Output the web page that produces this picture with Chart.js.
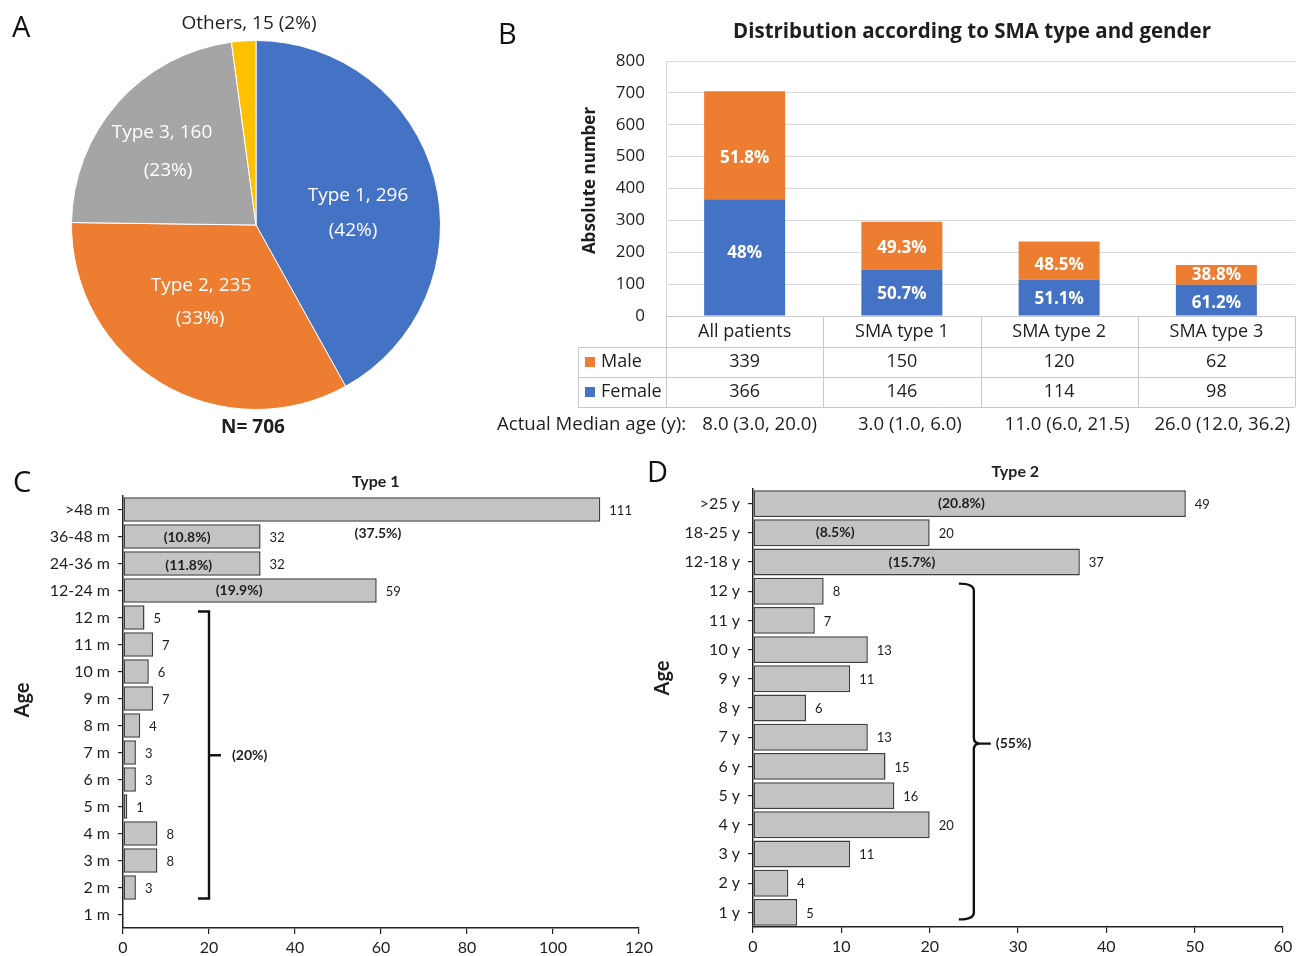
<!DOCTYPE html>
<html>
<head>
<meta charset="utf-8">
<title>SMA cohort overview</title>
<script src="https://cdn.jsdelivr.net/npm/chart.js@4"></script>
<style>
  html, body { margin: 0; padding: 0; background: #fff; width: 1299px; height: 956px; overflow: hidden; }
  canvas { position: absolute; }
  .letter { position: absolute; font-family: "Open Sans", sans-serif; font-size: 29px; line-height: 1; color: #111; }
</style>
</head>
<body>
<canvas id="pieA" width="480" height="450" style="left:0;top:0"></canvas>
<canvas id="barB" width="809" height="450" style="left:490px;top:0"></canvas>
<canvas id="barD" width="659" height="501" style="left:640px;top:455px"></canvas>
<canvas id="barC" width="660" height="496" style="left:0;top:460px"></canvas>
<div class="letter" style="left:12px;top:11px">A</div>
<div class="letter" style="left:498px;top:18px">B</div>
<div class="letter" style="left:13px;top:466px">C</div>
<div class="letter" style="left:647px;top:456px">D</div>

<script>
// ---- Panel A: patients by SMA type ----
const typeNames = ['Type 1', 'Type 2', 'Type 3', 'Others'];
const typeCounts = [296, 235, 160, 15];

// ---- Panel B: gender split per SMA type ----
const groupsB = ['All patients', 'SMA type 1', 'SMA type 2', 'SMA type 3'];
const maleB = [339, 150, 120, 62];
const femaleB = [366, 146, 114, 98];
const malePctB = ['51.8%', '49.3%', '48.5%', '38.8%'];
const femalePctB = ['48%', '50.7%', '51.1%', '61.2%'];
const medianAgeB = ['8.0 (3.0, 20.0)', '3.0 (1.0, 6.0)', '11.0 (6.0, 21.5)', '26.0 (12.0, 36.2)'];
const yTicksB = [0, 100, 200, 300, 400, 500, 600, 700, 800];

// ---- Panel C: age distribution, type 1 ----
const ageC = ['>48 m', '36-48 m', '24-36 m', '12-24 m', '12 m', '11 m', '10 m', '9 m', '8 m', '7 m', '6 m', '5 m', '4 m', '3 m', '2 m', '1 m'];
const countsC = [111, 32, 32, 59, 5, 7, 6, 7, 4, 3, 3, 1, 8, 8, 3, 0];
const pctC = ['(37.5%)', '(10.8%)', '(11.8%)', '(19.9%)'];
const groupPctC = '(20%)';
const xTicksC = [0, 20, 40, 60, 80, 100, 120];

// ---- Panel D: age distribution, type 2 ----
const ageD = ['>25 y', '18-25 y', '12-18 y', '12 y', '11 y', '10 y', '9 y', '8 y', '7 y', '6 y', '5 y', '4 y', '3 y', '2 y', '1 y'];
const countsD = [49, 20, 37, 8, 7, 13, 11, 6, 13, 15, 16, 20, 11, 4, 5];
const pctD = ['(20.8%)', '(8.5%)', '(15.7%)'];
const groupPctD = '(55%)';
const xTicksD = [0, 10, 20, 30, 40, 50, 60];

const SANS = '"Open Sans", sans-serif';
const LATO = 'Lato, sans-serif';
const INK = '#1e1e1e';

// ================= Panel A =================
const pieNotes = {
  id: 'pieNotes',
  afterDatasetsDraw(chart) {
    const ctx = chart.ctx;
    const arc = chart.getDatasetMeta(0).data[0];
    const cx = arc.x, cy = arc.y;
    const data = chart.data.datasets[0].data;
    const total = data.reduce((a, b) => a + b, 0);
    // label anchors (offsets from the pie centre) for each slice
    const spots = [
      [[102, -29], [97, 6]],
      [[-55, 61], [-56, 94]],
      [[-94, -92], [-88, -54]]
    ];
    ctx.save();
    ctx.font = '19px ' + SANS;
    ctx.textAlign = 'center';
    ctx.textBaseline = 'middle';
    ctx.fillStyle = '#fff';
    spots.forEach((s, i) => {
      const pct = Math.round(data[i] / total * 100);
      ctx.fillText(chart.data.labels[i] + ', ' + data[i], cx + s[0][0], cy + s[0][1]);
      ctx.fillText('(' + pct + '%)', cx + s[1][0], cy + s[1][1]);
    });
    const last = data.length - 1;
    ctx.fillStyle = INK;
    ctx.fillText(chart.data.labels[last] + ', ' + data[last] + ' (' + Math.round(data[last] / total * 100) + '%)', cx - 7, 24);
    ctx.font = 'bold 19px ' + SANS;
    ctx.fillText('N= ' + total, cx - 3, 428);
    ctx.restore();
  }
};

new Chart(document.getElementById('pieA'), {
  type: 'pie',
  data: {
    labels: typeNames,
    datasets: [{
      data: typeCounts,
      backgroundColor: ['#4472C4', '#ED7D31', '#A5A5A5', '#FFC000'],
      borderColor: '#ffffff',
      borderWidth: 1,
      hoverOffset: 0
    }]
  },
  options: {
    responsive: false,
    animation: false,
    layout: { padding: { left: 71, right: 39, top: 40, bottom: 40 } },
    plugins: { legend: { display: false }, tooltip: { enabled: false } }
  },
  plugins: [pieNotes]
});

// ================= Panel B =================
const genderTable = {
  id: 'genderTable',
  afterDatasetsDraw(chart) {
    const { ctx, chartArea: a } = chart;
    const n = groupsB.length;
    const colW = (a.right - a.left) / n;
    const rows = [a.bottom, a.bottom + 31, a.bottom + 61, a.bottom + 91];
    const legendLeft = a.left - 88;
    const line = (x1, y1, x2, y2) => { ctx.beginPath(); ctx.moveTo(x1, y1); ctx.lineTo(x2, y2); ctx.stroke(); };

    ctx.save();
    // segment percentages inside the stacked bars (small nudges keep them clear of edges)
    const maleNudge = [13, 3, 5, 0];
    const femaleNudge = [-4, 2, 2, 3];
    ctx.font = 'bold 17px ' + SANS;
    ctx.fillStyle = '#fff';
    ctx.textAlign = 'center';
    ctx.textBaseline = 'middle';
    const fem = chart.getDatasetMeta(0).data;
    const mal = chart.getDatasetMeta(1).data;
    fem.forEach((b, i) => ctx.fillText(femalePctB[i], b.x, (b.y + b.base) / 2 + femaleNudge[i]));
    mal.forEach((b, i) => ctx.fillText(malePctB[i], b.x, (b.y + b.base) / 2 + maleNudge[i]));

    // data table grid
    ctx.strokeStyle = '#C9C9C9';
    ctx.lineWidth = 1;
    line(a.left, rows[0] + 0.5, a.right, rows[0] + 0.5);
    for (let r = 1; r < 4; r++) line(legendLeft, rows[r] + 0.5, a.right, rows[r] + 0.5);
    line(legendLeft + 0.5, rows[1], legendLeft + 0.5, rows[3]);
    for (let c = 0; c <= n; c++) {
      const x = Math.round(a.left + c * colW) + 0.5;
      line(x, rows[0], x, rows[3]);
    }

    // table text
    ctx.font = '18px ' + SANS;
    ctx.fillStyle = INK;
    groupsB.forEach((g, i) => {
      const cx = a.left + (i + 0.5) * colW;
      ctx.fillText(g, cx, rows[0] + 16);
      ctx.fillText(String(maleB[i]), cx, rows[1] + 15);
      ctx.fillText(String(femaleB[i]), cx, rows[2] + 15);
    });
    ctx.textAlign = 'left';
    ctx.fillStyle = '#ED7D31';
    ctx.fillRect(legendLeft + 7, rows[1] + 10, 10, 10);
    ctx.fillStyle = '#4472C4';
    ctx.fillRect(legendLeft + 7, rows[2] + 10, 10, 10);
    ctx.fillStyle = INK;
    ctx.fillText('Male', legendLeft + 23, rows[1] + 15);
    ctx.fillText('Female', legendLeft + 23, rows[2] + 15);

    // median age line under the table
    const medianShift = [15, 8, 8, 6];
    ctx.font = '18.6px ' + SANS;
    ctx.fillText('Actual Median age (y):', 7, rows[3] + 18);
    ctx.textAlign = 'center';
    medianAgeB.forEach((m, i) => ctx.fillText(m, a.left + (i + 0.5) * colW + medianShift[i], rows[3] + 18));

    // chart title and value-axis title
    ctx.font = 'bold 20.5px ' + SANS;
    ctx.fillText('Distribution according to SMA type and gender', 482, 32);
    ctx.save();
    ctx.translate(100, (a.top + a.bottom) / 2 - 8);
    ctx.rotate(-Math.PI / 2);
    ctx.font = 'bold 17px ' + SANS;
    ctx.fillText('Absolute number', 0, 0);
    ctx.restore();
    ctx.restore();
  }
};

new Chart(document.getElementById('barB'), {
  type: 'bar',
  data: {
    labels: groupsB,
    datasets: [
      { label: 'Female', data: femaleB, backgroundColor: '#4472C4' },
      { label: 'Male', data: maleB, backgroundColor: '#ED7D31' }
    ]
  },
  options: {
    responsive: false,
    animation: false,
    layout: { padding: { left: 0, right: 4, top: 61, bottom: 134 } },
    datasets: { bar: { categoryPercentage: 1, barPercentage: 0.515 } },
    plugins: { legend: { display: false }, tooltip: { enabled: false } },
    scales: {
      x: { display: false, stacked: true },
      y: {
        stacked: true,
        min: 0,
        max: 800,
        afterBuildTicks(s) { s.ticks = yTicksB.map(v => ({ value: v })); },
        afterFit(s) { s.width = 176; },
        ticks: { color: INK, font: { family: SANS, size: 17 }, padding: 21 },
        grid: { color: '#D9D9D9', drawTicks: false },
        border: { color: '#D9D9D9' }
      }
    }
  },
  plugins: [genderTable]
});

// ================= Panels C and D =================
function ageNotes(cfg) {
  return {
    id: 'ageNotes',
    afterDatasetsDraw(chart) {
      const { ctx, scales: { x, y } } = chart;
      const values = chart.data.datasets[0].data;
      const bars = chart.getDatasetMeta(0).data;
      ctx.save();
      ctx.fillStyle = INK;
      ctx.textBaseline = 'middle';

      // counts at the end of each bar
      ctx.font = '13px ' + LATO;
      ctx.textAlign = 'left';
      bars.forEach((b, i) => {
        if (values[i] > 0) ctx.fillText(String(values[i]), b.x + 9, b.y + 1);
      });

      // share of each older age band
      ctx.font = 'bold 14px ' + LATO;
      ctx.textAlign = 'center';
      cfg.notes.forEach(nt => ctx.fillText(nt.text, x.getPixelForValue(nt.x), y.getPixelForValue(nt.row)));

      // panel title
      ctx.font = 'bold 16px ' + LATO;
      ctx.fillText(cfg.title, x.getPixelForValue(cfg.titleX), cfg.titleY);

      // axis title
      ctx.save();
      ctx.translate(29, cfg.ageY);
      ctx.rotate(-Math.PI / 2);
      ctx.textBaseline = 'alphabetic';
      ctx.font = 'bold 20px ' + LATO;
      ctx.fillText('Age', 0, 0);
      ctx.restore();

      // bracket grouping the single-year bands
      const bx = x.getPixelForValue(cfg.bracket.x);
      const y1 = y.getPixelForValue(cfg.bracket.from);
      const y2 = y.getPixelForValue(cfg.bracket.to);
      const ym = y.getPixelForValue(cfg.bracket.mid);
      ctx.strokeStyle = '#111';
      ctx.lineWidth = 2.4;
      ctx.beginPath();
      if (cfg.bracket.curly) {
        ctx.moveTo(bx - 15, y1);
        ctx.quadraticCurveTo(bx, y1, bx, y1 + 7);
        ctx.lineTo(bx, ym - 6);
        ctx.quadraticCurveTo(bx, ym, bx + 6, ym);
        ctx.quadraticCurveTo(bx, ym, bx, ym + 6);
        ctx.lineTo(bx, y2 - 7);
        ctx.quadraticCurveTo(bx, y2, bx - 15, y2);
        ctx.moveTo(bx + 4, ym);
        ctx.lineTo(bx + 17, ym);
      } else {
        ctx.moveTo(bx - 11, y1);
        ctx.lineTo(bx, y1);
        ctx.lineTo(bx, y2);
        ctx.lineTo(bx - 11, y2);
        ctx.moveTo(bx, ym);
        ctx.lineTo(bx + 12, ym);
      }
      ctx.stroke();
      ctx.textAlign = 'left';
      ctx.font = 'bold 14px ' + LATO;
      ctx.fillText(cfg.bracket.text, bx + cfg.bracket.textGap, ym);
      ctx.restore();
    }
  };
}

function ageChart(id, labels, values, xTicks, sizes, notes) {
  return new Chart(document.getElementById(id), {
    type: 'bar',
    data: {
      labels: labels,
      datasets: [{
        data: values,
        backgroundColor: '#C3C3C3',
        borderColor: '#3f3f3f',
        borderWidth: 1.5,
        borderSkipped: false,
        categoryPercentage: 1,
        barPercentage: sizes.bar
      }]
    },
    options: {
      indexAxis: 'y',
      responsive: false,
      animation: false,
      layout: { padding: { left: 0, right: sizes.right, top: sizes.top, bottom: 0 } },
      plugins: { legend: { display: false }, tooltip: { enabled: false } },
      scales: {
        x: {
          min: xTicks[0],
          max: xTicks[xTicks.length - 1],
          afterBuildTicks(s) { s.ticks = xTicks.map(v => ({ value: v })); },
          afterFit(s) { s.height = sizes.xHeight; },
          ticks: { color: INK, font: { family: LATO, size: 16 }, padding: 4, maxRotation: 0 },
          grid: { drawOnChartArea: false, color: '#222', tickLength: 6, lineWidth: 1.2 },
          border: { color: '#222', width: 1.5 }
        },
        y: {
          afterFit(s) { s.width = sizes.left; },
          ticks: { color: INK, font: { family: LATO, size: 16 }, padding: 8 },
          grid: { offset: false, drawOnChartArea: false, color: '#222', tickLength: 5, lineWidth: 1.2 },
          border: { color: '#222', width: 1.5 }
        }
      }
    },
    plugins: [ageNotes(notes)]
  });
}

ageChart('barC', ageC, countsC, xTicksC,
  { left: 123, right: 21, top: 36, xHeight: 28, bar: 0.9 },
  {
    title: 'Type 1', titleX: 58.8, titleY: 22, ageY: 240,
    notes: [
      { text: pctC[0], x: 59.3, row: 0.89 },
      { text: pctC[1], x: 14.9, row: 1.04 },
      { text: pctC[2], x: 15.3, row: 2.07 },
      { text: pctC[3], x: 27, row: 3 }
    ],
    bracket: { x: 20, from: 3.78, to: 14.41, mid: 9.1, text: groupPctC, textGap: 23, curly: false }
  });

ageChart('barD', ageD, countsD, xTicksD,
  { left: 113, right: 16, top: 34, xHeight: 29, bar: 0.92 },
  {
    title: 'Type 2', titleX: 29.7, titleY: 17, ageY: 223,
    notes: [
      { text: pctD[0], x: 23.6, row: 0 },
      { text: pctD[1], x: 9.3, row: 1 },
      { text: pctD[2], x: 18, row: 2 }
    ],
    bracket: { x: 25, from: 2.74, to: 14.24, mid: 8.22, text: groupPctD, textGap: 22, curly: true }
  });
</script>
</body>
</html>
